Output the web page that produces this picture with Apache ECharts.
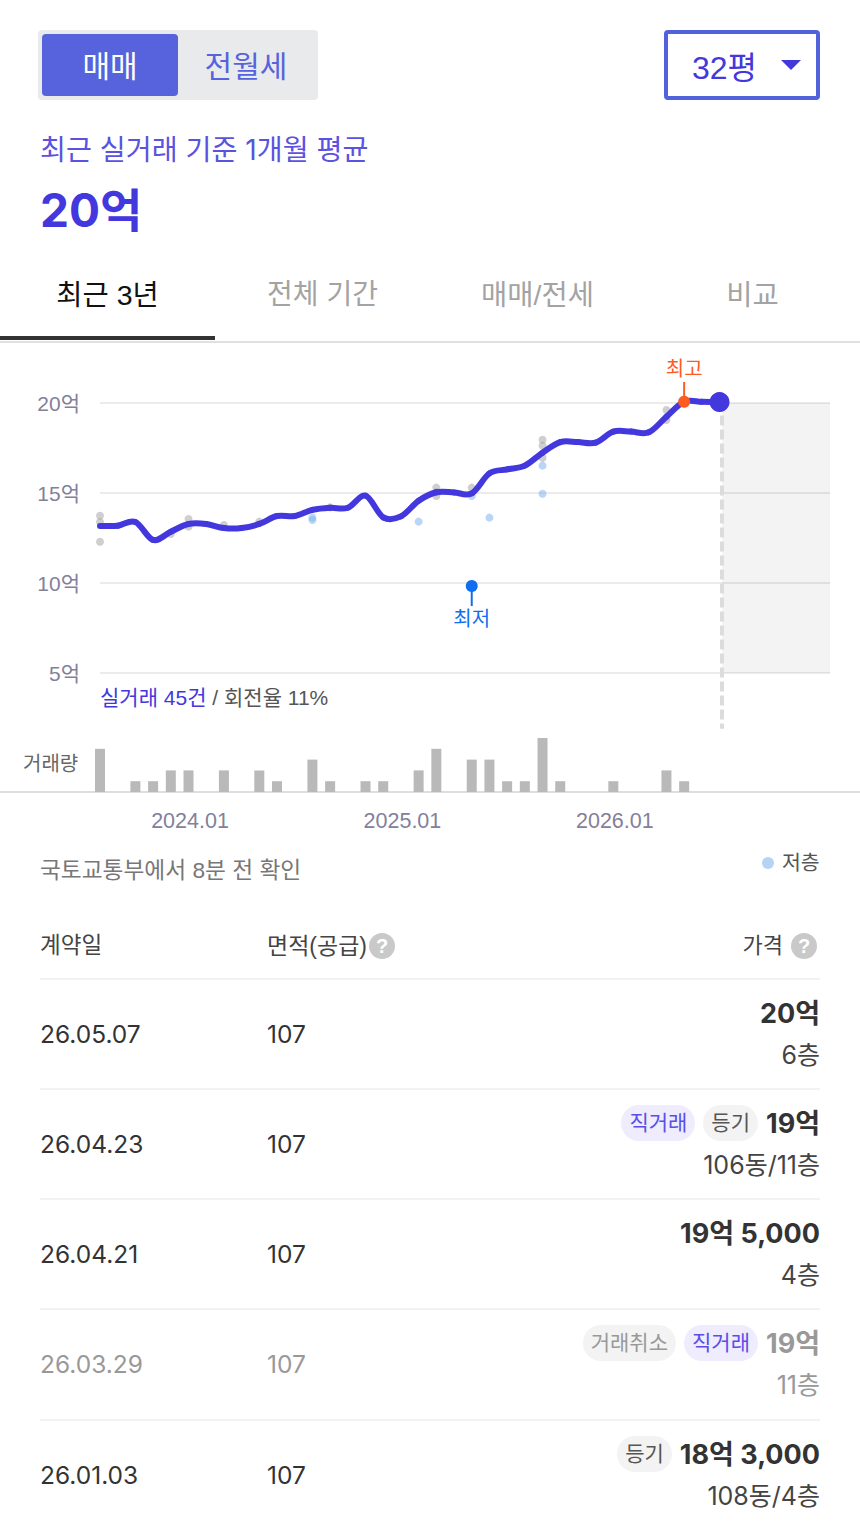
<!DOCTYPE html>
<html lang="ko"><head><meta charset="utf-8">
<script src="https://cdn.jsdelivr.net/npm/echarts@6/dist/echarts.min.js"></script>
<style>
*{box-sizing:border-box}
html,body{margin:0;padding:0;background:#fff;width:860px;height:1530px;overflow:hidden;font-family:"Liberation Sans","Noto Sans CJK KR",sans-serif}
.a{position:absolute;white-space:nowrap;line-height:1}
.t{font-family:Inter,"Noto Sans CJK KR",sans-serif}
#chart{position:absolute;left:0;top:340px;width:860px;height:500px}
.pill{display:inline-block;height:36px;line-height:36px;border-radius:18px;padding:0 8px;font-size:21px;margin-right:8px;vertical-align:top}
.q{position:absolute;width:26px;height:26px;border-radius:50%;background:#c9c9c9;color:#fff;font-size:20px;font-weight:bold;line-height:26px;text-align:center}
</style></head><body>
<div class="a" style="left:38px;top:30px;width:280px;height:70px;background:#e9eaec;border-radius:4px"></div>
<div class="a" style="left:42px;top:34px;width:136px;height:62px;background:#5763dc;border-radius:4px;color:#fff;font-size:30px;line-height:65px;text-align:center">매매</div>
<div class="a" style="left:178px;top:34px;width:136px;height:62px;color:#5763dc;font-size:30px;line-height:65px;text-align:center">전월세</div>
<div class="a" style="left:664px;top:30px;width:156px;height:70px;border:4px solid #5261dc;border-radius:4px"></div>
<div class="a" style="left:692px;top:52px;color:#4338dd;font-size:32px">32평</div>
<div class="a" style="left:781px;top:60px;width:0;height:0;border-left:10px solid transparent;border-right:10px solid transparent;border-top:10px solid #4338dd"></div>
<div class="a t" style="left:40px;top:136px;color:#5a52e0;font-size:28.2px">최근 실거래 기준 1개월 평균</div>
<div class="a t" style="left:40px;top:187px;color:#4338dd;font-size:46px;font-weight:bold">20억</div>
<div class="a" style="left:0;top:281px;width:215px;text-align:center;font-size:28.5px;color:#111">최근 3년</div>
<div class="a" style="left:215px;top:281px;width:215px;text-align:center;font-size:28px;color:#a3a3a3">전체 기간</div>
<div class="a" style="left:430px;top:281px;width:215px;text-align:center;font-size:28.5px;color:#a3a3a3">매매/전세</div>
<div class="a" style="left:645px;top:281px;width:215px;text-align:center;font-size:28.5px;color:#a3a3a3">비교</div>
<div class="a" style="left:0;top:341px;width:860px;height:2px;background:#e0e0e0"></div>
<div class="a" style="left:0;top:336px;width:215px;height:4px;background:#333"></div>
<div class="a" style="left:0;top:791px;width:860px;height:2px;background:#dedede"></div>
<div id="chart"></div>
<div class="a" style="left:100px;top:687px;font-size:21px;color:#555"><span style="color:#4338dd">실거래 45건</span> / 회전율 11%</div>
<div class="a" style="left:23px;top:754px;font-size:20px;color:#666">거래량</div>
<div class="a" style="left:40px;top:859px;font-size:22.7px;color:#777">국토교통부에서 8분 전 확인</div>
<div class="a" style="left:762px;top:857px;width:12px;height:12px;border-radius:50%;background:#b5d3f5"></div>
<div class="a" style="left:782px;top:853px;font-size:20.5px;color:#555">저층</div>
<div class="a" style="left:40px;top:935px;font-size:22.5px;color:#444">계약일</div>
<div class="a" style="left:267px;top:935px;font-size:23px;color:#444">면적(공급)</div>
<div class="q" style="left:369px;top:933px">?</div>
<div class="a" style="right:77px;top:935px;font-size:22px;color:#444">가격</div>
<div class="q" style="left:791px;top:933px">?</div>
<div id="rows"></div>
<script>
// chart data: one entry per month, index 0 = 2023.08
const months = ['2023.08','2023.09','2023.10','2023.11','2023.12','2024.01','2024.02','2024.03','2024.04','2024.05','2024.06','2024.07','2024.08','2024.09','2024.10','2024.11','2024.12','2025.01','2025.02','2025.03','2025.04','2025.05','2025.06','2025.07','2025.08','2025.09','2025.10','2025.11','2025.12','2026.01','2026.02','2026.03','2026.04','2026.05','2026.06','2026.07'];
const avgPrice = [13.17,13.18,13.39,12.39,12.85,13.28,13.28,13.05,13.05,13.28,13.72,13.72,14.06,14.18,14.18,14.85,13.65,13.7,14.57,15.04,15.03,14.98,16.09,16.31,16.52,17.24,17.83,17.83,17.8,18.41,18.41,18.37,19.24,20.07,20.07,20.05];
const volume = [4,0,1,1,2,2,0,2,0,2,1,0,3,1,0,1,1,0,2,4,0,3,3,1,1,5,1,0,0,1,0,0,2,1,0,0];
const tradesMonth = [0,0,0,4,5,5,7,9,13,19,19,19,21,25,25,25,32,32];
const tradesPrice = [13.74,13.39,12.29,12.72,13.56,13.13,13.22,13.41,14.2,15.3,15.05,14.83,15.3,17.96,17.63,16.96,19.61,19.06];
const lowFloorMonth = [12,12,18,21,22,25,25];
const lowFloorPrice = [13.63,13.5,13.41,14.83,13.63,16.52,14.96];
const lowMarker = [21,9.83], highMarker = [33,20.07];
const xTickMonths = ['2024.01','2025.01','2026.01'];
const yTicks = {min:5,max:20,interval:5};
const xMax = 41.24, dividerX = 35.14;

const pts = (xs,ys)=>xs.map((x,i)=>[x,ys[i]]);
const font = '"Liberation Sans","Noto Sans CJK KR",sans-serif';
const stem = (a,b,c)=>({type:'line',data:[a,b],clip:false,showSymbol:false,silent:true,z:6,lineStyle:{color:c,width:2},itemStyle:{color:c}});
// average line: each data item draws the spline segment to the next month, positions from api.coord
const renderSegment = (params,api)=>{
 const i=params.dataIndex, n=avgPrice.length;
 if(i>=n-1) return null;
 const c=k=>api.coord([Math.max(0,Math.min(n-1,k)),avgPrice[Math.max(0,Math.min(n-1,k))]]);
 const p0=c(i-1),p1=c(i),p2=c(i+1),p3=c(i+2);
 return {type:'bezierCurve',silent:true,shape:{x1:p1[0],y1:p1[1],x2:p2[0],y2:p2[1],
  cpx1:p1[0]+(p2[0]-p0[0])/6,cpy1:p1[1]+(p2[1]-p0[1])/6,cpx2:p2[0]-(p3[0]-p1[0])/6,cpy2:p2[1]-(p3[1]-p1[1])/6},
  style:{stroke:'#4338dd',lineWidth:6,fill:null,lineCap:'round'}};
};
const chart = echarts.init(document.getElementById('chart'),null,{renderer:'svg'});
chart.setOption({
 animation:false,
 textStyle:{fontFamily:font},
 grid:[{left:100,width:730,top:63,height:270},{left:100,width:730,top:398,height:54}],
 xAxis:[
  {type:'value',gridIndex:0,min:0,max:xMax,axisLine:{show:false},axisTick:{show:false},axisLabel:{show:false},splitLine:{show:false}},
  {type:'value',gridIndex:1,min:0,max:xMax,axisLine:{show:false},axisTick:{show:false},splitLine:{show:false},
   axisLabel:{customValues:xTickMonths.map(m=>months.indexOf(m)),formatter:v=>months[v],color:'#83809a',fontSize:21.5,margin:18,padding:[0,0,0,3],hideOverlap:false,showMinLabel:true,showMaxLabel:true}}
 ],
 yAxis:[
  {type:'value',gridIndex:0,min:yTicks.min,max:yTicks.max,interval:yTicks.interval,axisLine:{show:false},axisTick:{show:false},
   axisLabel:{formatter:'{value}억',color:'#83809a',fontSize:21,margin:20,padding:[0,0,4,0]},splitLine:{lineStyle:{color:'#ebebeb',width:2}}},
  {type:'value',gridIndex:1,min:0,max:5,show:false,splitLine:{show:false}}
 ],
 series:[
  {type:'line',data:[],markArea:{silent:true,itemStyle:{color:'rgba(0,0,0,0.047)'},data:[[{coord:[dividerX,yTicks.max]},{coord:[xMax,yTicks.min]}]]}},
  {type:'line',data:[[dividerX,19.3],[dividerX,1.9]],clip:false,showSymbol:false,silent:true,z:1,lineStyle:{color:'#dcdcdc',width:4,type:[10,4]}},
  {type:'scatter',data:pts(tradesMonth,tradesPrice),symbolSize:8,z:2,itemStyle:{color:'#a0a0a0',opacity:.5}},
  {type:'scatter',data:pts(lowFloorMonth,lowFloorPrice),symbolSize:8,z:2,itemStyle:{color:'#7fb5ee',opacity:.55}},
  {type:'custom',data:avgPrice.map((v,i)=>[i,v]),encode:{x:0,y:1},renderItem:renderSegment,z:4},
  {type:'scatter',data:[[avgPrice.length-1,avgPrice[avgPrice.length-1]]],clip:false,symbolSize:20,z:5,itemStyle:{color:'#4338dd',opacity:1}},
  stem(lowMarker,[lowMarker[0],8.72],'#0f6ef0'),
  stem(highMarker,[highMarker[0],21.17],'#ff5a1f'),
  {type:'scatter',data:[lowMarker],symbolSize:12,z:7,itemStyle:{color:'#0f6ef0',opacity:1},label:{show:true,opacity:1,formatter:'최저',position:'bottom',distance:17,color:'#0f6ef0',fontSize:20}},
  {type:'scatter',data:[highMarker],clip:false,symbolSize:12,z:7,itemStyle:{color:'#ff5a1f',opacity:1},label:{show:true,opacity:1,formatter:'최고',position:'top',distance:17,color:'#ff5a1f',fontSize:20}},
  {type:'bar',xAxisIndex:1,yAxisIndex:1,data:volume.map((v,i)=>[i,v]).filter(d=>d[1]>0),barWidth:10,itemStyle:{color:'#b9b9b9'}}
 ]
});

// transaction table
const dates = ['26.05.07','26.04.23','26.04.21','26.03.29','26.01.03'];
const areas = ['107','107','107','107','107'];
const prices = ['20억','19억','19억 5,000','19억','18억 3,000'];
const floors = ['6층','106동/11층','4층','11층','108동/4층'];
const tags = [[],['직거래','등기'],[],['거래취소','직거래'],['등기']];
const cancelled = [false,false,false,true,false];
const rowTops = [979,1089,1199,1309,1420];
const tagStyle = {'직거래':'background:#eeecfd;color:#5a4ee8','등기':'background:#f3f3f3;color:#555','거래취소':'background:#f3f3f3;color:#999'};
let html='';
dates.forEach((d,i)=>{
 const t=rowTops[i], c=cancelled[i];
 html+=`<div class="a" style="left:40px;top:${t-1}px;width:780px;height:2px;background:#f2f2f2"></div>`;
 html+=`<div class="a t" style="left:40px;top:${t+43}px;font-size:24.5px;color:${c?'#999':'#333'}">${d}</div>`;
 html+=`<div class="a t" style="left:267px;top:${t+43}px;font-size:24.5px;color:${c?'#999':'#333'}">${areas[i]}</div>`;
 html+=`<div class="a t" style="right:40px;top:${t+16}px;height:36px;line-height:36px;color:${c?'#999':'#333'}">`+tags[i].map(x=>`<span class="pill" style="${tagStyle[x]}">${x}</span>`).join('')+`<span style="font-size:27px;font-weight:bold;vertical-align:top;position:relative;top:1px">${prices[i]}</span></div>`;
 html+=`<div class="a t" style="right:40px;top:${t+64}px;font-size:25px;color:${c?'#999':'#444'}">${floors[i]}</div>`;
});
document.getElementById('rows').innerHTML=html;
</script>
</body></html>
